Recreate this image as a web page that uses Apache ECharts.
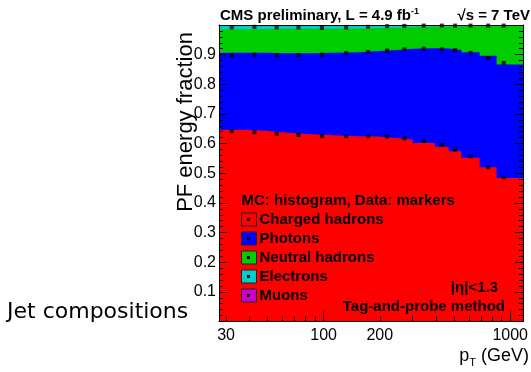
<!DOCTYPE html>
<html><head><meta charset="utf-8">
<script src="https://cdn.jsdelivr.net/npm/echarts@6/dist/echarts.min.js"></script>
<style>html,body{margin:0;padding:0;background:#fff}#c{width:531px;height:372px}</style>
</head><body><div id="c"></div>
<script>
// ---- data ----
const binEdges = [27.5, 37, 49, 64, 84, 114, 153, 196, 245, 300, 395, 468, 548, 686, 846, 1170];
const mcCharged   = [0.647,0.643,0.637,0.632,0.628,0.625,0.624,0.619,0.614,0.602,0.589,0.574,0.552,0.520,0.484];
const mcPhotons   = [0.259,0.263,0.268,0.273,0.278,0.283,0.288,0.297,0.306,0.320,0.332,0.342,0.356,0.376,0.383];
const mcNeutral   = [0.080,0.080,0.082,0.082,0.081,0.080,0.077,0.075,0.073,0.072,0.074,0.080,0.089,0.102,0.131];
const mcElectrons = [0.013,0.013,0.012,0.012,0.012,0.011,0.010,0.008,0.006,0.005,0.004,0.003,0.002,0.001,0.001];
const mcMuons     = [0.001,0.001,0.001,0.001,0.001,0.001,0.001,0.001,0.001,0.001,0.001,0.001,0.001,0.001,0.001];
const dataPt       = [32.2, 42.6, 56, 73.3, 97.9, 132, 173, 219, 271, 344, 430, 506, 613, 762, 923];
const dataCharged  = [0.642,0.638,0.633,0.629,0.625,0.625,0.625,0.623,0.618,0.609,0.596,0.580,0.557,0.520,0.486];
const dataPhotons  = [0.256,0.262,0.265,0.270,0.275,0.280,0.284,0.291,0.300,0.311,0.322,0.335,0.349,0.369,0.386];
const dataNeutral  = [0.094,0.094,0.094,0.093,0.090,0.087,0.085,0.082,0.079,0.078,0.080,0.083,0.092,0.109,0.126];
const componentNames = ['Charged hadrons', 'Photons', 'Neutral hadrons', 'Electrons', 'Muons'];
const xLabelValues = [30, 100, 200, 1000];
const xMajorTicks = [100, 1000];
const xMinorTicks = [30, 40, 50, 60, 70, 80, 90, 200, 300, 400, 500, 600, 700, 800, 900];

// ---- styles ----
const componentColors = ['#ff0000', '#0000ff', '#00cc00', '#00cccc', '#cc00cc'];
const FONT = 'Liberation Sans, Arial, sans-serif';

const lg = v => Math.log10(v);
function cumulate(arrs) {
  const out = []; let run = arrs[0].map(() => 0);
  arrs.forEach(a => { run = run.map((r, i) => r + a[i]); out.push(run.slice()); });
  return out;
}
const mcCum = cumulate([mcCharged, mcPhotons, mcNeutral, mcElectrons, mcMuons]);
const dataCum = cumulate([dataCharged, dataPhotons, dataNeutral]);

function stepData(vals) {
  const pts = vals.map((v, i) => [lg(binEdges[i]), v]);
  pts.push([lg(binEdges[binEdges.length - 1]), vals[vals.length - 1]]);
  return pts;
}

const series = [];
for (let k = componentNames.length - 1; k >= 0; k--) {
  series.push({
    name: componentNames[k], type: 'line', step: 'end', symbol: 'none',
    data: stepData(mcCum[k]), color: componentColors[k],
    lineStyle: { width: 0 },
    areaStyle: { color: componentColors[k], opacity: 1, origin: 'start' },
    silent: true, z: 2
  });
}
dataCum.forEach((c, k) => {
  series.push({
    name: 'Data ' + k, type: 'scatter', symbol: 'rect', symbolSize: 4,
    itemStyle: { color: '#000' }, z: 4,
    data: c.map((v, i) => [lg(dataPt[i]), v])
  });
});

// legend layout (decoration)
const legendLeft = 241, legendTop = 212, legendItemW = 15, legendItemH = 13, legendStep = 19;
const legendDots = componentNames.map((n, i) => ({
  type: 'rect', z: 30,
  shape: { x: legendLeft + legendItemW / 2 - 1.5, y: legendTop + 1 + legendItemH / 2 - 1.5 + legendStep * i, width: 3, height: 3 },
  style: { fill: '#000' }
}));

const xMin = lg(binEdges[0]), xMax = lg(binEdges[binEdges.length - 1]);
const blk = { color: '#000', width: 1 };
const chart = echarts.init(document.getElementById('c'), null, { renderer: 'canvas' });
chart.setOption({
  animation: false,
  textStyle: { fontFamily: FONT },
  grid: { left: 219, top: 25, width: 304, height: 296.5, containLabel: false },
  legend: {
    orient: 'vertical', left: legendLeft, top: legendTop, padding: 0, itemGap: 4,
    itemWidth: legendItemW, itemHeight: legendItemH, icon: 'rect', selectedMode: false,
    itemStyle: { borderColor: '#222', borderWidth: 1 },
    textStyle: { fontFamily: FONT, fontWeight: 'bold', fontSize: 15, color: '#000', padding: [0, 0, 0, -2] },
    data: componentNames.map((n, i) => ({ name: n, itemStyle: { color: componentColors[i] } }))
  },
  xAxis: [
    { type: 'value', min: xMin, max: xMax, position: 'bottom', z: 10,
      axisLine: { show: true, onZero: false, lineStyle: blk },
      axisTick: { show: true, inside: true, length: 10, customValues: xMajorTicks.map(lg), lineStyle: blk },
      axisLabel: { customValues: xLabelValues.map(lg), formatter: v => String(Math.round(Math.pow(10, v))),
                   fontSize: 16, color: '#000', margin: 6, fontFamily: FONT },
      splitLine: { show: false } },
    { type: 'value', min: xMin, max: xMax, position: 'bottom', z: 10,
      axisLine: { show: false },
      axisTick: { show: true, inside: true, length: 5, customValues: xMinorTicks.map(lg), lineStyle: blk },
      axisLabel: { show: false }, splitLine: { show: false } },
    { type: 'value', min: xMin, max: xMax, position: 'top', z: 10,
      axisLine: { show: true, onZero: false, lineStyle: blk },
      axisTick: { show: false }, axisLabel: { show: false }, splitLine: { show: false } }
  ],
  yAxis: [
    { type: 'value', min: 0, max: 1, interval: 0.1, position: 'left', z: 10,
      axisLine: { show: true, onZero: false, lineStyle: blk },
      axisTick: { show: true, inside: true, length: 8, lineStyle: blk },
      minorTick: { show: true, splitNumber: 5, length: 4, lineStyle: blk },
      axisLabel: { formatter: v => (v > 0.001 && v < 0.999) ? v.toFixed(1) : '',
                   fontSize: 16, color: '#000', margin: 3, fontFamily: FONT },
      splitLine: { show: false }, minorSplitLine: { show: false } },
    { type: 'value', min: 0, max: 1, interval: 0.1, position: 'right', z: 10,
      axisLine: { show: true, onZero: false, lineStyle: blk },
      axisTick: { show: true, inside: true, length: 8, lineStyle: blk },
      minorTick: { show: true, splitNumber: 5, length: 4, lineStyle: blk },
      axisLabel: { show: false }, splitLine: { show: false }, minorSplitLine: { show: false } }
  ],
  series: series,
  graphic: legendDots.concat([
    { type: 'text', x: 220, y: 16, z: 20, style: {
        text: 'CMS preliminary, L = 4.9 fb{sup|-1}', fontFamily: FONT, fontWeight: 'bold', fontSize: 15,
        fill: '#000', verticalAlign: 'middle', align: 'left',
        rich: { sup: { fontSize: 9, fontWeight: 'bold', fontFamily: FONT, verticalAlign: 'top', lineHeight: 18 } } } },
    { type: 'text', x: 530, y: 16, z: 20, style: {
        text: '√s = 7 TeV', fontFamily: FONT, fontWeight: 'bold', fontSize: 15, fill: '#000',
        verticalAlign: 'middle', align: 'right' } },
    { type: 'text', x: 241.5, y: 201, z: 20, style: {
        text: 'MC: histogram, Data: markers', fontFamily: FONT, fontWeight: 'bold', fontSize: 15, fill: '#000',
        verticalAlign: 'middle', align: 'left' } },
    { type: 'text', x: 498, y: 288, z: 20, style: {
        text: '|η|<1.3', fontFamily: FONT, fontWeight: 'bold', fontSize: 15, fill: '#000',
        verticalAlign: 'middle', align: 'right' } },
    { type: 'text', x: 505, y: 307, z: 20, style: {
        text: 'Tag-and-probe method', fontFamily: FONT, fontWeight: 'bold', fontSize: 15, fill: '#000',
        verticalAlign: 'middle', align: 'right' } },
    { type: 'text', x: 186, y: 122, rotation: Math.PI / 2, z: 20, style: {
        text: 'PF energy fraction', fontFamily: FONT, fontSize: 22, fill: '#000',
        verticalAlign: 'middle', align: 'center' } },
    { type: 'text', x: 529, y: 356, z: 20, style: {
        text: 'p{sub|T} (GeV)', fontFamily: FONT, fontSize: 18, fill: '#000', lineHeight: 24,
        verticalAlign: 'middle', align: 'right',
        rich: { sub: { fontSize: 11, fontFamily: FONT, verticalAlign: 'bottom', lineHeight: 11 } } } },
    { type: 'text', x: 7, y: 312, z: 20, style: {
        text: 'Jet compositions', fontFamily: 'DejaVu Sans', fontSize: 22, fill: '#000',
        verticalAlign: 'middle', align: 'left' } }
  ])
});
</script></body></html>
